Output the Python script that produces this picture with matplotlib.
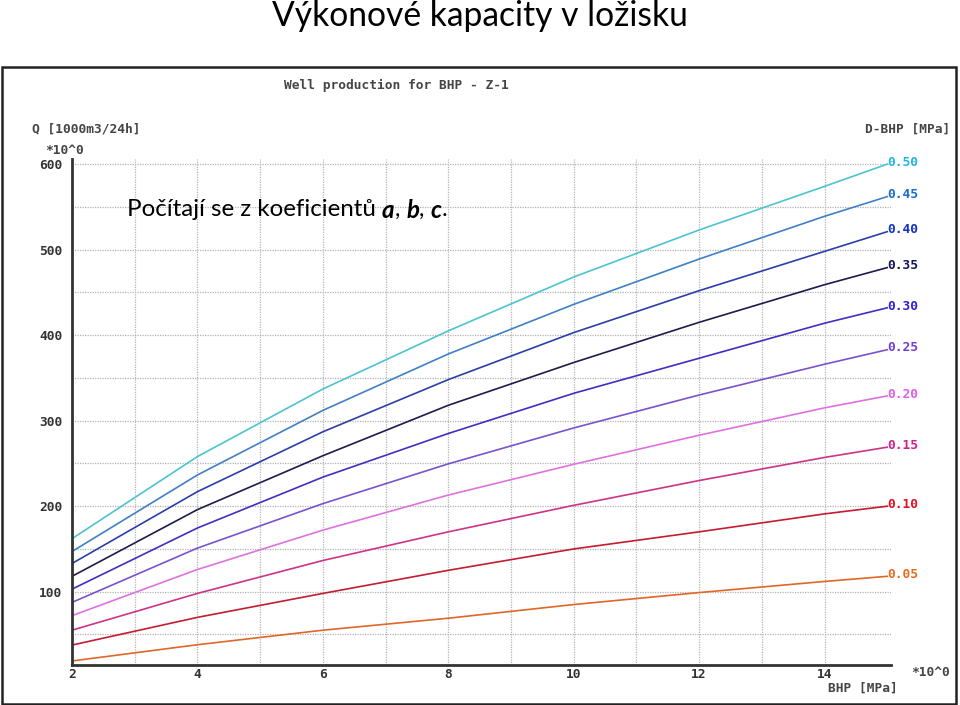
import matplotlib
matplotlib.use("Agg")
import matplotlib.pyplot as plt
from matplotlib.patches import Rectangle

# BHP [MPa] sample points and Q [1000 m3/24h] for each D-BHP curve
bhp = [2, 4, 6, 8, 10, 12, 14, 15]
dbhp_labels = ["0.50", "0.45", "0.40", "0.35", "0.30", "0.25", "0.20", "0.15", "0.10", "0.05"]
q_050 = [162, 258, 337, 405, 468, 523, 574, 600]
q_045 = [147, 236.5, 312, 378, 436, 489, 539, 562]
q_040 = [133, 217, 287, 348, 403, 452, 498, 521]
q_035 = [118, 196, 259, 318, 368, 415, 459, 479]
q_030 = [103, 174.5, 234, 285, 332, 373, 414, 432]
q_025 = [87.5, 151, 203, 249.5, 291.5, 330, 366, 383]
q_020 = [72, 126, 172, 213, 249, 283, 315, 329]
q_015 = [55, 98, 136.5, 170, 201, 230, 257, 269]
q_010 = [37.6, 70, 98, 125, 150, 170, 191, 200]
q_005 = [19, 38, 55, 69, 85, 99, 112, 118]
series = [q_050, q_045, q_040, q_035, q_030, q_025, q_020, q_015, q_010, q_005]

line_colors = ["#4cc4d0", "#3f80c6", "#2c3eaa", "#1c1c4e", "#3f2fc2",
               "#7a52cf", "#de72de", "#cf3388", "#c41c30", "#e0662a"]
label_colors = ["#22b4e4", "#1a6cd0", "#1032c4", "#12125e", "#3020d4",
                "#7040d8", "#e45ee8", "#d02090", "#e01020", "#e86a20"]

W, H = 960, 705
MONO = dict(family="DejaVu Sans Mono", weight="bold", size=9.3)
GREY = "#454545"

fig = plt.figure(figsize=(W / 100, H / 100), dpi=100)

def fx(px): return px / W
def fy(py): return 1 - py / H

# slide title
fig.text(0.5, fy(16), "Výkonové kapacity v ložisku", ha="center", va="center",
         fontsize=24.2, family="Lato", color="black")

# framed picture of the chart
fig.patches.append(Rectangle((fx(2), fy(704)), fx(954), (704 - 67) / H,
                             transform=fig.transFigure, fill=False,
                             edgecolor="#222222", linewidth=1.8))

ax = fig.add_axes([fx(72), fy(665), (891 - 72) / W, (665 - 159) / H])
for c, col, q in zip(dbhp_labels, line_colors, series):
    ax.plot(bhp, q, color=col, lw=1.2)
for c, col, q in zip(dbhp_labels, label_colors, series):
    ax.text(bhp[-1], q[-1] + 2, c, color=col, ha="left", va="center", **MONO)

ax.set_xlim(2, 15.06)
ax.set_ylim(14.3, 606)
ax.set_xticks([2, 4, 6, 8, 10, 12, 14])
ax.set_xticks([3, 5, 7, 9, 11, 13], minor=True)
ax.set_yticks([100, 200, 300, 400, 500, 600])
ax.set_yticks([50, 150, 250, 350, 450, 550], minor=True)
ax.grid(True, which="both", color="#b4b4b4", lw=0.9, ls=(0, (1, 1)))
ax.set_axisbelow(True)
for s in ("top", "right"):
    ax.spines[s].set_visible(False)
for s in ("left", "bottom"):
    ax.spines[s].set_color("#333333")
    ax.spines[s].set_linewidth(2)
ax.tick_params(which="both", length=0, colors="#333333")
ax.tick_params(axis="y", pad=7)
ax.tick_params(axis="x", pad=2)
for t in ax.get_xticklabels() + ax.get_yticklabels():
    t.set_fontfamily(MONO["family"]); t.set_fontweight("bold"); t.set_fontsize(MONO["size"])
    t.set_color("#333333")

# chart captions
fig.text(fx(396), fy(85), "Well production for BHP - Z-1", ha="center", va="center", color=GREY, **MONO)
fig.text(fx(32), fy(129), "Q [1000m3/24h]", ha="left", va="center", color=GREY, **MONO)
fig.text(fx(45), fy(151), "*10^0", ha="left", va="center", color=GREY, **MONO)
fig.text(fx(950), fy(129), "D-BHP [MPa]", ha="right", va="center", color=GREY, **MONO)
fig.text(fx(950), fy(672), "*10^0", ha="right", va="center", color=GREY, **MONO)
fig.text(fx(898), fy(688), "BHP [MPa]", ha="right", va="center", color=GREY, **MONO)

# overlay note, mixed styles
pieces = [("Počítají se z koeficientů ", "normal", "normal"), ("a", "bold", "italic"),
          (", ", "normal", "normal"), ("b", "bold", "italic"), (", ", "normal", "normal"),
          ("c", "bold", "italic"), (".", "normal", "normal")]
renderer = fig.canvas.get_renderer()
x = fx(127)
for txt, wt, st in pieces:
    t = fig.text(x, fy(210), txt, ha="left", va="center", fontsize=17.4,
                 family="Lato", weight=wt, style=st, color="black")
    bb = t.get_window_extent(renderer)
    x = bb.x1 / W

fig.savefig("out.png", dpi=100)
